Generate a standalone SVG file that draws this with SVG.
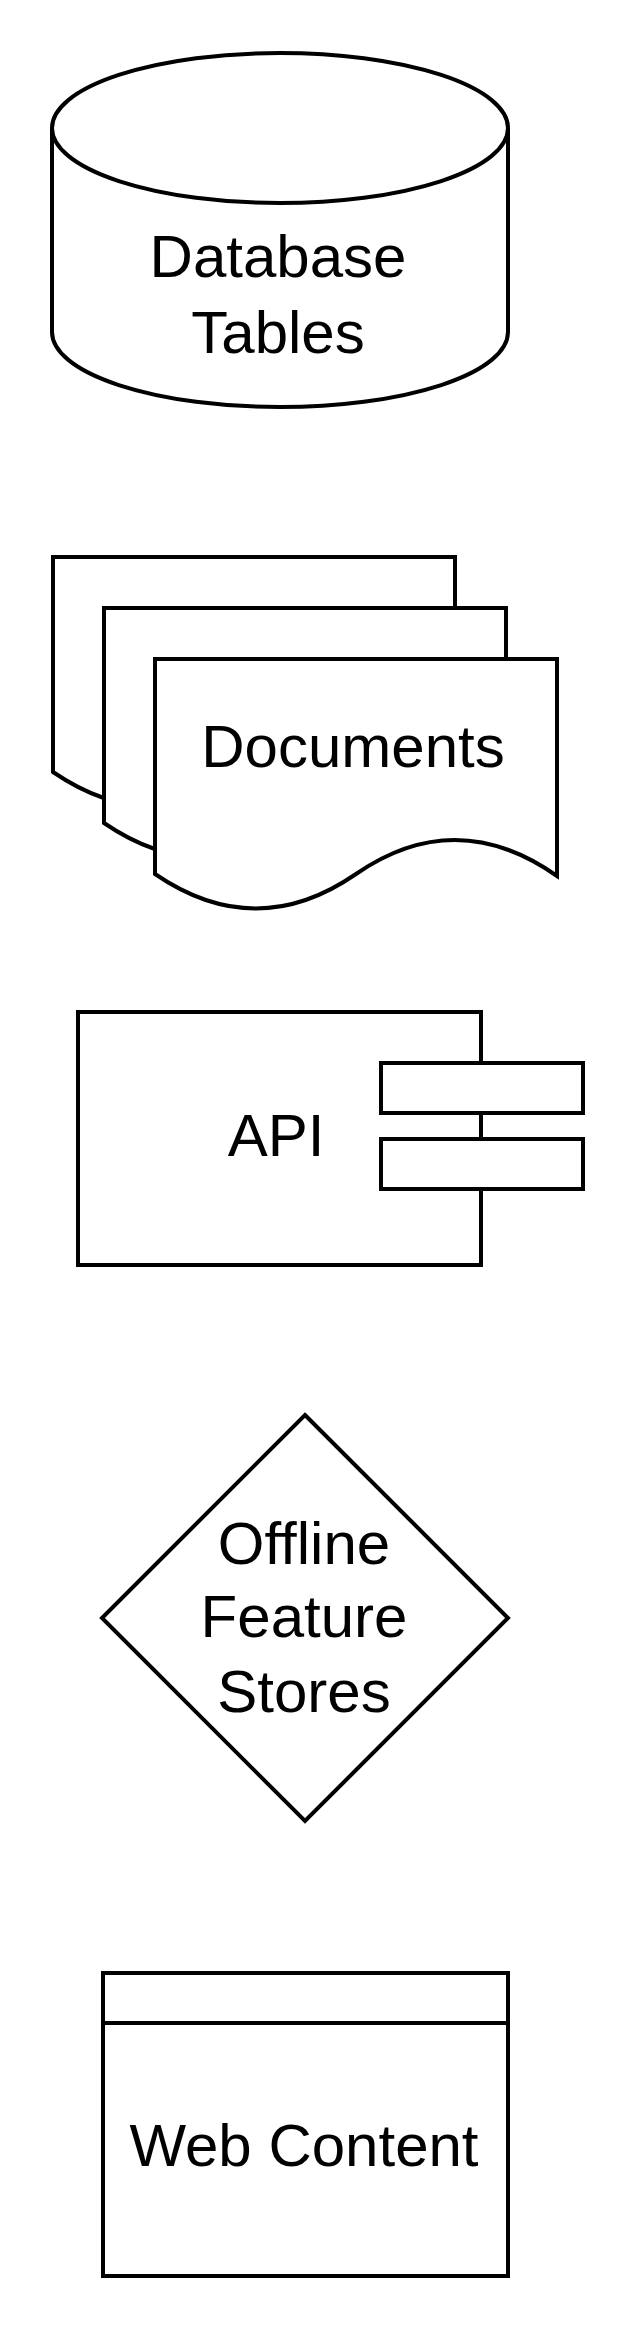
<svg xmlns="http://www.w3.org/2000/svg" width="636" height="2328" viewBox="0 0 636 2328">
<style>
.s{fill:#fff;stroke:#000;stroke-width:4;stroke-linejoin:miter}
.n{fill:none;stroke:#000;stroke-width:4}
.t{font-family:"Liberation Sans",Arial,sans-serif;font-size:60px;fill:#000;text-anchor:middle}
</style>
<defs>
<path id="doc" d="M155,659 H557 V876 Q456,805 356,874 T155,874 Z"/>
</defs>
<rect width="636" height="2328" fill="#fff"/>
<g id="connectors"></g>
<g id="database-tables">
<path class="s" d="M52,128 V332 A228,75 0 0 0 508,332 V128 A228,75 0 0 0 52,128 Z"/>
<path class="n" d="M52,128 A228,75 0 0 0 508,128"/>
<text class="t" x="278" y="277">Database</text>
<text class="t" x="278" y="353">Tables</text>
</g>
<g id="documents">
<use href="#doc" class="s" transform="translate(-102,-102)"/>
<use href="#doc" class="s" transform="translate(-51,-51)"/>
<use href="#doc" class="s"/>
<text class="t" x="353" y="767">Documents</text>
</g>
<g id="api">
<rect class="s" x="78" y="1012" width="403" height="253"/>
<rect class="s" x="381" y="1063" width="202" height="50"/>
<rect class="s" x="381" y="1139" width="202" height="50"/>
<text class="t" x="276" y="1156">API</text>
</g>
<g id="offline-feature-stores">
<path class="s" d="M305,1415 L508,1618 L305,1821 L102,1618 Z"/>
<text class="t" x="304" y="1564">Offline</text>
<text class="t" x="304" y="1637">Feature</text>
<text class="t" x="304" y="1712">Stores</text>
</g>
<g id="web-content">
<rect class="s" x="103" y="1973" width="405" height="303"/>
<line class="n" x1="103" y1="2023" x2="508" y2="2023"/>
<text class="t" x="304" y="2166">Web Content</text>
</g>
</svg>
